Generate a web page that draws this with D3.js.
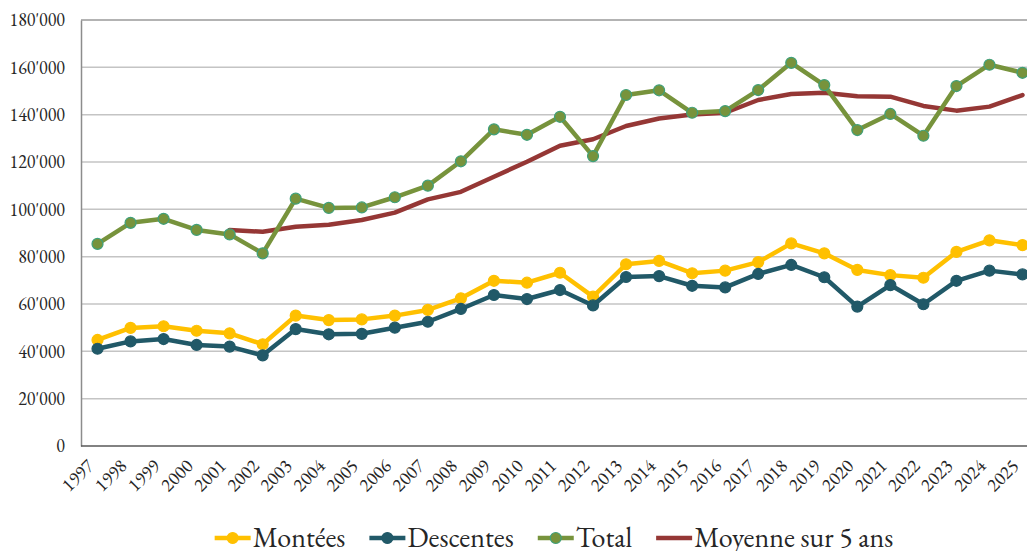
<!DOCTYPE html>
<html lang="fr">
	<head>
		<meta charset="utf-8">
		<title>Montées / Descentes</title>
		<script src="https://d3js.org/d3.v7.min.js"></script>
		<style>
			body { margin: 0; background: #fff; }
			svg text { font-family: 'EB Garamond', 'Liberation Serif'; fill: #262626; }
		</style>
	</head>
	<body>
		<script type="text/javascript">

			// data
			var years = [1997, 1998, 1999, 2000, 2001, 2002, 2003, 2004, 2005, 2006, 2007, 2008, 2009, 2010,
				2011, 2012, 2013, 2014, 2015, 2016, 2017, 2018, 2019, 2020, 2021, 2022, 2023, 2024, 2025];
			var montees = [44800, 49900, 50600, 48700, 47600, 43000, 55100, 53200, 53500, 55100, 57500, 62400, 69800, 69000,
				73200, 63100, 76800, 78200, 73000, 74100, 77700, 85600, 81400, 74400, 72200, 71100, 82000, 86900, 84900];
			var descentes = [41100, 44200, 45200, 42700, 42000, 38300, 49400, 47200, 47400, 50000, 52500, 57900, 63800, 62100,
				65900, 59400, 71400, 71800, 67700, 67000, 72700, 76500, 71300, 58900, 68000, 59900, 69800, 74100, 72500];
			var total = [85400, 94300, 96000, 91300, 89400, 81400, 104500, 100600, 100800, 105100, 110000, 120300, 133800, 131500,
				139100, 122500, 148300, 150300, 140800, 141500, 150400, 161900, 152500, 133500, 140300, 131100, 152100, 161100, 157700];
			// 5-year average starts in 2001
			var moyenne = [null, null, null, null, 91300, 90500, 92600, 93500, 95500, 98600, 104200, 107400, 113800, 120100,
				126900, 129600, 135200, 138400, 140100, 140800, 146200, 148700, 149300, 147800, 147600, 143700, 141700, 143400, 148300];
			var yTicks = [0, 20000, 40000, 60000, 80000, 100000, 120000, 140000, 160000, 180000];

			var series = [
				{name: "Montées", values: montees, color: "#FFC000", stroke: "#FFC000", marker: true},
				{name: "Descentes", values: descentes, color: "#215968", stroke: "#215968", marker: true},
				{name: "Total", values: total, color: "#77933C", stroke: "#3FA07A", marker: true},
				{name: "Moyenne sur 5 ans", values: moyenne, color: "#953735", stroke: "#953735", marker: false}
			];

			var w = 1027;
			var h = 551;
			var mLeft = 81, mRight = 1039, mTop = 20, mBottom = 446;

			var svg = d3.select("body").append("svg").attr("width", w).attr("height", h);

			var xScale = d3.scalePoint()
				.domain(years)
				.range([mLeft, mRight])
				.padding(0.5);

			var yScale = d3.scaleLinear()
				.domain([0, 180000])
				.range([mBottom, mTop]);

			function fmt(v) {
				return d3.format(",")(v).replace(/,/g, "'");
			}

			// gridlines
			svg.append("g").selectAll("line")
				.data(yTicks.filter(function(d) { return d > 0; }))
				.enter().append("line")
				.attr("x1", mLeft).attr("x2", w)
				.attr("y1", function(d) { return yScale(d); })
				.attr("y2", function(d) { return yScale(d); })
				.attr("stroke", function(d) { return d == 180000 ? "#9a9a9a" : "#c4c4c4"; })
				.attr("stroke-width", 1.5);

			// y axis
			var yAxis = d3.axisLeft(yScale).tickValues(yTicks).tickFormat(fmt).tickSize(0).tickPadding(16);
			var gy = svg.append("g").attr("transform", "translate(" + mLeft + ",0)").call(yAxis);
			gy.attr("font-family", null);
			gy.select(".domain").attr("stroke", "#8c8c8c").attr("stroke-width", 1.5);
			gy.selectAll("text").style("font-size", "18px");

			// x axis
			var xAxis = d3.axisBottom(xScale).tickSize(0).tickSizeOuter(0);
			var gx = svg.append("g").attr("transform", "translate(0," + mBottom + ")").call(xAxis);
			gx.attr("font-family", null);
			gx.select(".domain").attr("d", "M" + mLeft + ",0H" + w).attr("stroke", "#595959").attr("stroke-width", 1.5);
			gx.selectAll("text")
				.style("font-size", "19px")
				.attr("text-anchor", "end")
				.attr("y", 0).attr("dy", 0)
				.attr("transform", "translate(-3,21) rotate(-45)");

			// lines
			var line = d3.line()
				.defined(function(d) { return d != null; })
				.x(function(d, i) { return xScale(years[i]); })
				.y(function(d) { return yScale(d); });

			var order = [3, 0, 1, 2];
			order.forEach(function(k) {
				var s = series[k];
				svg.append("path")
					.datum(s.values)
					.attr("d", line)
					.attr("fill", "none")
					.attr("stroke", s.color)
					.attr("stroke-width", 4.5)
					.attr("stroke-linejoin", "round")
					.attr("stroke-linecap", "round");
				if (s.marker) {
					svg.append("g").selectAll("circle")
						.data(s.values)
						.enter().append("circle")
						.attr("cx", function(d, i) { return xScale(years[i]); })
						.attr("cy", function(d) { return yScale(d); })
						.attr("r", 5.5)
						.attr("fill", s.color)
						.attr("stroke", s.stroke)
						.attr("stroke-width", 1.2);
				}
			});

			// legend
			var legend = svg.append("g");
			var lx = 0;
			series.forEach(function(s) {
				var g = legend.append("g").attr("transform", "translate(" + lx + ",0)");
				g.append("line").attr("x1", 0).attr("x2", 36).attr("y1", 0).attr("y2", 0)
					.attr("stroke", s.color).attr("stroke-width", 4.5);
				if (s.marker) {
					g.append("circle").attr("cx", 18).attr("cy", 0).attr("r", 5.5)
						.attr("fill", s.color).attr("stroke", s.stroke).attr("stroke-width", 1.2);
				}
				var t = g.append("text").attr("x", 38).attr("y", 9)
					.style("font-size", "28px").text(s.name);
				lx += 38 + t.node().getComputedTextLength() + 24;
			});
			lx -= 24;
			legend.attr("transform", "translate(" + (554 - lx / 2) + ",538)");

		</script>
	</body>
</html>
